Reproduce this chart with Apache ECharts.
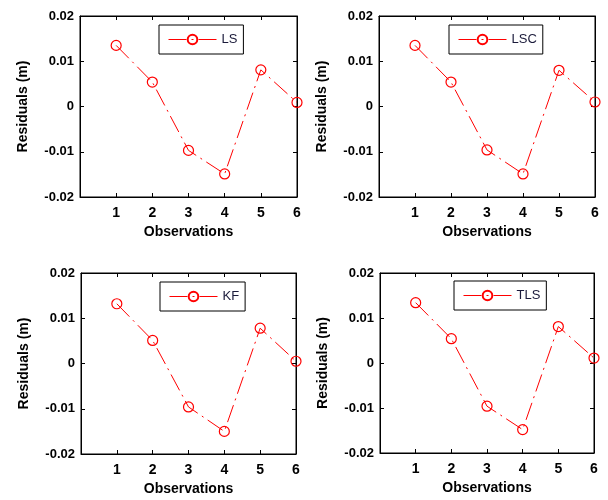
<!DOCTYPE html>
<html>
<head>
<meta charset="utf-8">
<script src="https://cdn.jsdelivr.net/npm/echarts@6/dist/echarts.min.js"></script>
<style>html,body{margin:0;padding:0;background:#fff}#c{width:608px;height:500px}</style>
</head>
<body>
<div id="c"></div>
<script>
// Data
var observations = [1, 2, 3, 4, 5, 6];
var seriesNames = ['LS', 'LSC', 'KF', 'TLS'];
var lsValues  = [0.0135, 0.0054, -0.0097, -0.0149, 0.0081, 0.0009];
var lscValues = [0.0135, 0.0054, -0.0096, -0.0149, 0.0080, 0.0010];
var kfValues  = [0.0132, 0.0051, -0.0096, -0.0150, 0.0078, 0.0005];
var tlsValues = [0.0134, 0.0054, -0.0096, -0.0148, 0.0081, 0.0011];
var xTickLabels = ['1', '2', '3', '4', '5', '6'];
var yTickLabels = ['-0.02', '-0.01', '0', '0.01', '0.02'];
var yAxisTitle = 'Residuals (m)';
var xAxisTitle = 'Observations';

var allValues = [lsValues, lscValues, kfValues, tlsValues];
var grids = [
  {left: 80, top: 16, width: 217, height: 181},
  {left: 379, top: 16, width: 216, height: 181},
  {left: 81, top: 273, width: 215, height: 181},
  {left: 380, top: 273, width: 214, height: 180}
];
var legendPos = [
  {left: 159, top: 25},
  {left: 449, top: 25},
  {left: 160, top: 282},
  {left: 454, top: 281}
];
var FONT = 'Liberation Sans';
var option = {
  animation: false,
  backgroundColor: '#fff',
  grid: [], xAxis: [], yAxis: [], series: [], legend: []
};
function yFmt(v) {
  var idx = Math.round(v / 0.01) + 2;
  return yTickLabels[idx] !== undefined ? yTickLabels[idx] : '';
}
function xFmt(v) {
  var idx = Math.round(v) - 1;
  return xTickLabels[idx] !== undefined ? xTickLabels[idx] : '';
}
for (var i = 0; i < 4; i++) {
  var g = grids[i];
  option.grid.push({left: g.left, top: g.top, width: g.width, height: g.height,
    show: true, borderColor: '#000', borderWidth: 1, backgroundColor: 'transparent'});
  option.xAxis.push({
    type: 'value', gridIndex: i, min: 0, max: 6, interval: 1, position: 'bottom',
    axisLine: {show: true, onZero: false, lineStyle: {color: '#000', width: 1}},
    axisTick: {show: true, inside: true, length: 4, lineStyle: {color: '#000'}},
    splitLine: {show: false},
    axisLabel: {formatter: xFmt, color: '#000', fontFamily: FONT, fontWeight: 'bold', fontSize: 14, margin: 9},
    name: xAxisTitle, nameLocation: 'middle', nameGap: 28,
    nameTextStyle: {color: '#000', fontFamily: FONT, fontWeight: 'bold', fontSize: 14}
  });
  option.xAxis.push({
    type: 'value', gridIndex: i, min: 0, max: 6, interval: 1, position: 'top',
    axisLine: {show: true, onZero: false, lineStyle: {color: '#000', width: 1}},
    axisTick: {show: true, inside: true, length: 4, lineStyle: {color: '#000'}},
    splitLine: {show: false}, axisLabel: {show: false}
  });
  option.yAxis.push({
    type: 'value', gridIndex: i, min: -0.02, max: 0.02, interval: 0.01, position: 'left',
    axisLine: {show: true, onZero: false, lineStyle: {color: '#000', width: 1}},
    axisTick: {show: true, inside: true, length: 4, lineStyle: {color: '#000'}},
    splitLine: {show: false},
    axisLabel: {formatter: yFmt, color: '#000', fontFamily: FONT, fontWeight: 'bold', fontSize: 13, margin: 6},
    name: yAxisTitle, nameLocation: 'middle', nameGap: 50, nameRotate: 90,
    nameTextStyle: {color: '#000', fontFamily: FONT, fontWeight: 'bold', fontSize: 14}
  });
  option.yAxis.push({
    type: 'value', gridIndex: i, min: -0.02, max: 0.02, interval: 0.01, position: 'right',
    axisLine: {show: true, onZero: false, lineStyle: {color: '#000', width: 1}},
    axisTick: {show: true, inside: true, length: 4, lineStyle: {color: '#000'}},
    splitLine: {show: false}, axisLabel: {show: false}
  });
  var data = observations.map(function (x, k) { return [x, allValues[i][k]]; });
  option.series.push({
    name: seriesNames[i], type: 'line', xAxisIndex: 2 * i, yAxisIndex: 2 * i,
    data: data, symbol: 'circle', symbolSize: 10, color: '#ff0000',
    lineStyle: {color: '#ff0000', width: 1, type: [18, 5, 2, 5]},
    itemStyle: {color: 'rgba(255,255,255,0)', borderColor: '#ff0000', borderWidth: 1.2},
    z: 3
  });
  option.legend.push({
    data: [seriesNames[i]], left: legendPos[i].left, top: legendPos[i].top,
    orient: 'horizontal', backgroundColor: '#fff', borderColor: '#000', borderWidth: 1,
    borderRadius: 0, padding: [8, 6, 8, 9], itemWidth: 48, itemHeight: 12, itemGap: 4,
    lineStyle: {width: 1},
    textStyle: {color: '#1a1a3a', fontFamily: FONT, fontSize: 13},
    selectedMode: false
  });
}
var chart = echarts.init(document.getElementById('c'), null, {renderer: 'canvas'});
chart.setOption(option);
</script>
</body>
</html>
